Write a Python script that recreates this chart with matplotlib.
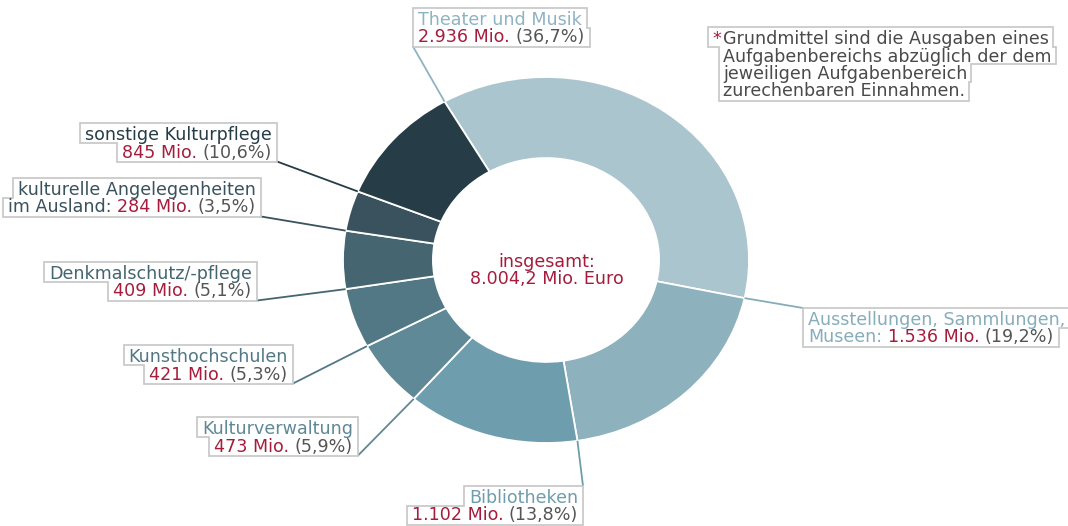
import numpy as np
import matplotlib.pyplot as plt
from matplotlib.patches import Polygon
from matplotlib.font_manager import FontProperties

# Grundmittel fuer Kultur, Mio. Euro
names = ['Theater und Musik', 'Ausstellungen, Sammlungen,\nMuseen:', 'Bibliotheken',
         'Kulturverwaltung', 'Kunsthochschulen', 'Denkmalschutz/-pflege',
         'kulturelle Angelegenheiten\nim Ausland:', 'sonstige Kulturpflege']
values = [2936, 1536, 1102, 473, 421, 409, 284, 845]
value_labels = ['2.936', '1.536', '1.102', '473', '421', '409', '284', '845']
shares = ['36,7', '19,2', '13,8', '5,9', '5,3', '5,1', '3,5', '10,6']
total_lines = ['insgesamt:', '8.004,2 Mio. Euro']
note_lines = ['Grundmittel sind die Ausgaben eines',
              'Aufgabenbereichs abzüglich der dem',
              'jeweiligen Aufgabenbereich',
              'zurechenbaren Einnahmen.']

wedge_colors = ['#abc5ce', '#8db1bd', '#6e9dad', '#5f8997',
                '#527886', '#456570', '#39525d', '#263c46']
name_colors = ['#8fb3c2', '#86adbc', '#6e9dad', '#5f8997',
               '#527886', '#456570', '#39525d', '#263c46']
RED = '#a51d3d'
GREY = '#555555'
NOTE = '#4a4a4a'
BOX = '#c6c6c6'

# label anchor (px), first baseline (px), text alignment, box corner for leader
label_x = [418, 808, 578, 353, 288, 252, 256, 272]
label_y = [25, 325, 503, 434, 362, 279, 195, 140]
label_align = ['left', 'left', 'right', 'right', 'right', 'right', 'right', 'right']
label_corner = ['bl', 'tl', 'tr', 'br', 'br', 'br', 'br', 'br']

W, H = 1068, 526
FS = 12.6
LS = 17.5
fig = plt.figure(figsize=(W / 100, H / 100), dpi=100)

# donut, slightly flattened like the original
cx, cy, rx, ry = 546, 260, 203, 183
pie_ax = fig.add_axes([(cx - rx) / W, (H - cy - ry) / H, 2 * rx / W, 2 * ry / H])
wedges, _ = pie_ax.pie(values, colors=wedge_colors, startangle=120, counterclock=False,
                       radius=1, wedgeprops=dict(width=0.443, edgecolor='white', linewidth=1.3))
pie_ax.set_aspect('auto')
pie_ax.set_xlim(-1, 1)
pie_ax.set_ylim(-1, 1)

ov = fig.add_axes([0, 0, 1, 1])
ov.set_xlim(0, W)
ov.set_ylim(H, 0)
ov.axis('off')

renderer = fig.canvas.get_renderer()
fp = FontProperties(family='DejaVu Sans', size=FS)


def width(s):
    if not s:
        return 0.0
    return renderer.get_text_width_height_descent(s, fp, ismath=False)[0]


def place_line(pieces, x, base, align):
    full = ''.join(p for p, c in pieces)
    total = width(full)
    start = x if align == 'left' else x - total
    acc = ''
    for s, c in pieces:
        acc += s
        core = s.strip()
        off = width(acc) - width(core)
        ov.text(start + off, base, core, fontproperties=fp, color=c,
                va='baseline', ha='left', zorder=5)
    return start, start + total


def draw_box(rows, bases, pad=5):
    tops = [bases[0] - 17] + [b + 2.5 for b in bases[:-1]]
    bots = [b + 2.5 for b in bases[:-1]] + [bases[-1] + 4]
    pts = []
    for (x0, x1), t, b in zip(rows, tops, bots):
        pts += [(x1 + pad, t), (x1 + pad, b)]
    for (x0, x1), t, b in reversed(list(zip(rows, tops, bots))):
        pts += [(x0 - pad, b), (x0 - pad, t)]
    ov.add_patch(Polygon(pts, closed=True, facecolor='white', edgecolor=BOX,
                         linewidth=1.2, zorder=4))
    return {'tl': (rows[0][0] - pad, tops[0]), 'tr': (rows[0][1] + pad, tops[0]),
            'bl': (rows[-1][0] - pad, bots[-1]), 'br': (rows[-1][1] + pad, bots[-1])}


for i, w in enumerate(wedges):
    name_parts = names[i].split('\n')
    lines = [[(p, name_colors[i])] for p in name_parts[:-1]]
    last = [(name_parts[-1], name_colors[i])] if len(name_parts) > 1 else []
    pre = ' ' if last else ''
    last += [(pre + value_labels[i] + ' Mio.', RED), (' (' + shares[i] + '%)', GREY)]
    if len(name_parts) == 1:
        lines = [[(name_parts[0], name_colors[i])]]
    lines.append(last)

    bases = [label_y[i] + k * LS for k in range(len(lines))]
    rows = [place_line(ln, label_x[i], b, label_align[i]) for ln, b in zip(lines, bases)]
    corners = draw_box(rows, bases)

    # leader from box corner to the wedge's leading edge on the outer rim
    ang = np.deg2rad(w.theta2)
    px, py = pie_ax.transData.transform((np.cos(ang), np.sin(ang)))
    ex, ey = ov.transData.inverted().transform((px, py))
    sx, sy = corners[label_corner[i]]
    ov.plot([sx, ex], [sy, ey], color=name_colors[i], linewidth=1.3, zorder=3,
            solid_capstyle='butt')

# total in the middle
for k, t in enumerate(total_lines):
    ov.text(cx + 1, 267 + k * LS, t, fontproperties=fp, color=RED,
            ha='center', va='baseline', zorder=5)

# footnote
note_x, note_y = 723, 44
note_bases = [note_y + k * LS for k in range(len(note_lines))]
note_rows = []
for k, t in enumerate(note_lines):
    note_rows.append(place_line([(t, NOTE)], note_x, note_bases[k], 'left'))
star_w = width('*')
ov.text(note_x - 2, note_bases[0], '*', fontproperties=fp, color=RED,
        ha='right', va='baseline', zorder=5)
note_rows[0] = (note_rows[0][0] - star_w - 2, note_rows[0][1])
draw_box(note_rows, note_bases, pad=4)

fig.savefig('out.png', dpi=100)
